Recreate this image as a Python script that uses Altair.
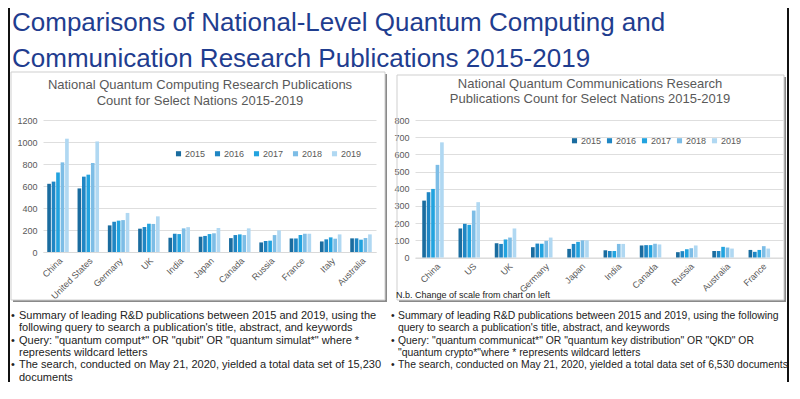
import altair as alt
import pandas as pd

# ---------------- data ----------------
years = ["2015", "2016", "2017", "2018", "2019"]
year_colors = ["#1a6c9f", "#1f86c4", "#22a3df", "#7dbde6", "#b0d8f2"]

comp_countries = ["China", "United States", "Germany", "UK", "India", "Japan",
                  "Canada", "Russia", "France", "Italy", "Australia"]
comp_2015 = [620, 578, 242, 212, 130, 139, 126, 87, 123, 96, 124]
comp_2016 = [640, 685, 275, 227, 166, 146, 154, 100, 123, 115, 124]
comp_2017 = [723, 703, 285, 257, 163, 163, 160, 103, 154, 133, 112]
comp_2018 = [815, 809, 290, 255, 215, 170, 154, 154, 166, 121, 127]
comp_2019 = [1030, 1005, 355, 324, 226, 218, 215, 197, 166, 160, 160]
comp_ticks = [0, 200, 400, 600, 800, 1000, 1200]

comm_countries = ["China", "US", "UK", "Germany", "Japan", "India",
                  "Canada", "Russia", "Australia", "France"]
comm_2015 = [331, 169, 83, 60, 50, 42, 70, 31, 38, 44]
comm_2016 = [380, 196, 79, 81, 79, 38, 72, 37, 38, 33]
comm_2017 = [399, 190, 105, 80, 91, 38, 72, 48, 62, 44]
comm_2018 = [539, 273, 116, 97, 100, 79, 80, 54, 58, 66]
comm_2019 = [670, 322, 169, 116, 100, 79, 76, 70, 52, 52]
comm_ticks = [0, 100, 200, 300, 400, 500, 600, 700, 800]

main_title = ["Comparisons of National-Level Quantum Computing and",
              "Communication Research Publications 2015-2019"]
comp_title = ["National Quantum Computing Research Publications",
              "Count for Select Nations 2015-2019"]
comm_title = ["National Quantum Communications Research",
              "Publications Count for Select Nations 2015-2019"]
note_text = "N.b. Change of scale from chart on left"

left_lines = [
    "Summary of leading R&D publications between 2015 and 2019, using the",
    "following query to search a publication's title, abstract, and keywords",
    "Query: \"quantum comput*\" OR \"qubit\" OR \"quantum simulat*\" where *",
    "represents wildcard letters",
    "The search, conducted on May 21, 2020, yielded a total data set of 15,230",
    "documents",
]
left_bullets = [True, False, True, False, True, False]
right_lines = [
    "Summary of leading R&D publications between 2015 and 2019, using the following",
    "query to search a publication's title, abstract, and keywords",
    "Query: \"quantum communicat*\" OR \"quantum key distribution\" OR \"QKD\" OR",
    "\"quantum crypto*\"where * represents wildcard letters",
    "The search, conducted on May 21, 2020, yielded a total data set of 6,530 documents",
]
right_bullets = [True, False, True, False, True]

FONT = "Liberation Sans, Arial, sans-serif"
GREY = "#595959"
INK = "#222222"
one = pd.DataFrame({"k": [0]})


def long_df(countries, series):
    rows = []
    for y, vals in zip(years, series):
        for c, v in zip(countries, vals):
            rows.append({"country": c, "year": y, "count": v})
    return pd.DataFrame(rows)


def rect(x1, x2, y1, y2, color):
    return alt.Chart(one).mark_rect(color=color).encode(
        x=alt.value(x1), x2=alt.value(x2), y=alt.value(y1), y2=alt.value(y2))


def frame(x1, x2, y1, y2):
    return alt.Chart(one).mark_rect(fill="white", fillOpacity=0, stroke="#cfcfcf",
                                    strokeWidth=1).encode(
        x=alt.value(x1), x2=alt.value(x2), y=alt.value(y1), y2=alt.value(y2))


def text(s, x, y, size, color, align="left"):
    return alt.Chart(one).mark_text(
        align=align, baseline="middle", fontSize=size, color=color, font=FONT
    ).encode(x=alt.value(x), y=alt.value(y), text=alt.value(s))


def block(lines, x, y0, lh, size, color, align="left"):
    return [text(s, x, y0 + i * lh, size, color, align) for i, s in enumerate(lines)]


def bullets(flags, x, y0, lh, size):
    return [text("\u2022", x, y0 + i * lh, size, INK) for i, f in enumerate(flags) if f]


def bars(countries, series, ymax, ticks, w, h, pin, pout, lx, ly, colpad):
    df = long_df(countries, series)
    return alt.Chart(df).mark_bar().encode(
        x=alt.X("country:N", sort=countries, title=None,
                scale=alt.Scale(paddingInner=pin, paddingOuter=pout),
                axis=alt.Axis(labelAngle=-45, labelFontSize=9, labelColor=GREY,
                              labelFont=FONT, ticks=False, domainColor="#d9d9d9",
                              labelPadding=4)),
        xOffset=alt.XOffset("year:N", sort=years,
                            scale=alt.Scale(paddingInner=0.18)),
        y=alt.Y("count:Q", title=None,
                scale=alt.Scale(domain=[0, ymax], nice=False),
                axis=alt.Axis(values=ticks, format="d", labelFontSize=9,
                              labelColor=GREY, labelFont=FONT, ticks=False,
                              domain=False, gridColor="#dedede", labelPadding=6)),
        color=alt.Color("year:N", sort=years,
                        scale=alt.Scale(domain=years, range=year_colors),
                        legend=alt.Legend(orient="none", legendX=lx, legendY=ly,
                                          direction="horizontal", title=None,
                                          symbolType="square", symbolSize=26,
                                          labelFontSize=9, labelColor=GREY,
                                          labelFont=FONT, labelOffset=2,
                                          columnPadding=colpad, padding=0)),
    ).properties(width=w, height=h)


TL = 196     # first bullet line, relative to plot top
LHB = 12.3   # bullet line spacing
BOT = 262    # bottom of the outer frame lines

# Coordinates are relative to the left plot area's origin.
# ---------------- header ----------------
header = alt.layer(
    *block(main_title, -31, 15, 36, 26, "#1f3d8f"),
    rect(-35, -33, 0, 64, "#111111"),
    rect(744, 746, 0, 64, "#111111"),
).properties(width=700, height=64)

# ---------------- left panel ----------------
LW, LH = 333, 132
left = alt.layer(
    rect(-35, -33, -48, BOT, "#111111"),          # outer frame left
    rect(342, 344, -46, 182, "#8a8a8a"),          # shadow right
    rect(-30, 344, 180, 182, "#8a8a8a"),          # shadow bottom
    frame(-32, 342, -48, 180),
    bars(comp_countries, [comp_2015, comp_2016, comp_2017, comp_2018, comp_2019],
         1200, comp_ticks, LW, LH, 0.29, 0.14, 131, 29, 7),
    *block(comp_title, 157, -35, 16, 13, GREY, align="center"),
    *bullets(left_bullets, -32, TL, LHB, 11),
    *block(left_lines, -24, TL, LHB, 11, INK),
).properties(width=LW, height=LH)

# ---------------- right panel ----------------
RW, RH = 368, 137.5
right = alt.layer(
    rect(372, 374, -48, BOT, "#111111"),          # outer frame right
    rect(369, 371, -43, 182, "#8a8a8a"),          # shadow right
    rect(-16, 371, 180, 182, "#8a8a8a"),          # shadow bottom
    frame(-18, 369, -45, 180),
    bars(comm_countries, [comm_2015, comm_2016, comm_2017, comm_2018, comm_2019],
         800, comm_ticks, RW, RH, 0.25, 0.2, 155, 16, 3),
    *block(comm_title, 175, -36, 14.5, 13, GREY, align="center"),
    text(note_text, -19, 175, 9, INK),
    *bullets(right_bullets, -24, TL, LHB, 10.4),
    *block(right_lines, -17, TL, LHB, 10.4, INK),
).properties(width=RW, height=RH)

row = alt.hconcat(left, right, spacing=39, bounds="flush").resolve_scale(
    color="independent").resolve_legend(color="independent")
chart = alt.vconcat(header, row, spacing=48, bounds="flush").properties(
    padding=0, background="white"
).configure_view(stroke=None)

chart.save("out.html", embed_options={"renderer": "svg", "actions": False})
